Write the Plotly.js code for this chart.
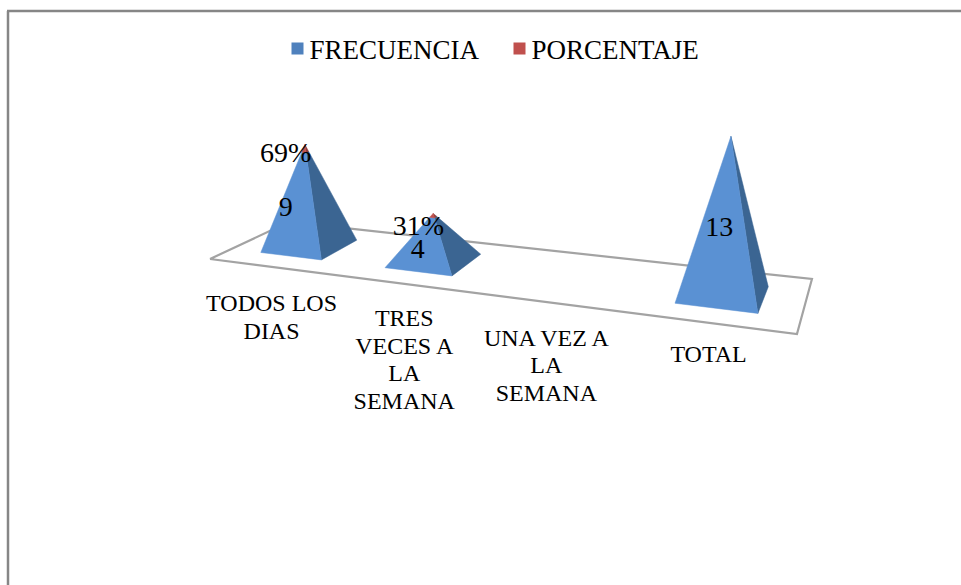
<!DOCTYPE html>
<html><head><meta charset="utf-8">
<script src="https://cdn.plot.ly/plotly-3.0.1.min.js"></script>
<style>html,body{margin:0;padding:0;background:#fff}#c{width:961px;height:585px}</style>
</head><body><div id="c"></div>
<script>
// ---- data ----
const categories = ['TODOS LOS<br>DIAS', 'TRES<br>VECES A<br>LA<br>SEMANA', 'UNA VEZ A<br>LA<br>SEMANA', 'TOTAL'];
const frecuencia = [9, 4, null, 13];
const porcentaje = [0.69, 0.31, null, null];

// ---- styles ----
const FONT = '"Liberation Serif","Times New Roman",serif';
const BLUE_FRONT = '#5a91d3', BLUE_SIDE = '#3b6592', BLUE_KEY = '#4f81bd';
const RED_FRONT = '#c0504d', RED_SIDE = '#8e3b39';

// ---- 3D projection of the floor (u along categories, w in depth, z up) ----
const H = {a:431.8, b:116, c:210, d:10, e:-8.6, f:259, g:-0.1947, h:0.128};
const UNIT = 10.9;
function project(u, w, z) {
  const den = H.g*u + H.h*w + 1;
  const px = (H.a*u + H.b*w + H.c)/den, py = (H.d*u + H.e*w + H.f)/den;
  const lift = z*UNIT/den;
  const lean = -0.0635 + 0.132*u;
  return [px + lean*lift, py - lift];
}
const n = categories.length;
const W0 = 0.25, W1 = 0.75, HALF_U = 0.0625;
const uc = i => (i + 0.5)/n;
function corners(i) {
  return {fl: project(uc(i)-HALF_U, W0, 0), fr: project(uc(i)+HALF_U, W0, 0), br: project(uc(i)+HALF_U, W1, 0)};
}
const lerp = (p, q, t) => [p[0]+(q[0]-p[0])*t, p[1]+(q[1]-p[1])*t];
function polyTrace(pts, color) {
  const c = pts.concat([pts[0]]);
  return {x: c.map(p=>p[0]), y: c.map(p=>p[1]), mode:'lines', fill:'toself', fillcolor:color,
          line:{color:color, width:0.5}, showlegend:false, hoverinfo:'skip', type:'scatter'};
}

const traces = [];
// floor
const floor = [project(0,0,0), project(1,0,0), project(1,1,0), project(0,1,0)];
const fc = floor.concat([floor[0]]);
traces.push({x:fc.map(p=>p[0]), y:fc.map(p=>p[1]), mode:'lines', fill:'toself', fillcolor:'#ffffff',
  line:{color:'#a3a3a3', width:2.2}, showlegend:false, hoverinfo:'skip', type:'scatter'});

// pyramids: a stack of frecuencia and porcentaje narrowing to one apex
categories.forEach((_, i) => {
  const f = frecuencia[i], p = porcentaje[i];
  if (f === null) return;
  const total = f + (p || 0);
  const c = corners(i), apex = project(uc(i), 0.5, total), t = f/total;
  const tl = lerp(c.fl, apex, t), tr = lerp(c.fr, apex, t), tb = lerp(c.br, apex, t);
  traces.push(polyTrace([c.fr, c.br, tb, tr], BLUE_SIDE));
  traces.push(polyTrace([c.fl, c.fr, tr, tl], BLUE_FRONT));
  if (p) {
    traces.push(polyTrace([tr, tb, apex], RED_SIDE));
    traces.push(polyTrace([tl, tr, apex], RED_FRONT));
  }
});

// data labels
const labX=[], labY=[], labT=[];
const lblOffsets = {f:[[-24,-37],[-16,-10],null,[-3.5,-66]], p:[[-24,-91],[-15.5,-33],null,null]};
categories.forEach((_, i) => {
  const base = project(uc(i), 0.5, 0);
  if (frecuencia[i] !== null) { labX.push(base[0]+lblOffsets.f[i][0]); labY.push(base[1]+lblOffsets.f[i][1]); labT.push(String(frecuencia[i])); }
  if (porcentaje[i] !== null) { labX.push(base[0]+lblOffsets.p[i][0]); labY.push(base[1]+lblOffsets.p[i][1]); labT.push(Math.round(porcentaje[i]*100)+'%'); }
});
traces.push({x:labX, y:labY, text:labT, mode:'text', textposition:'middle center', cliponaxis:false,
  textfont:{family:FONT, size:28, color:'#000'}, showlegend:false, hoverinfo:'skip', type:'scatter'});

// category labels, one text point per line so the line pitch can be kept
const catDx = [1, 3, 0, 0], catDy = [38.5, 36.5, 37.5, 33.5], LINE_PITCH = 27.7;
const catX=[], catY=[], catT=[];
categories.forEach((label, i) => {
  const p = project(uc(i), 0, 0);
  label.split('<br>').forEach((line, k) => {
    catX.push(p[0]+catDx[i]); catY.push(p[1]+catDy[i]+k*LINE_PITCH); catT.push(line);
  });
});
traces.push({x:catX, y:catY, text:catT, mode:'text', textposition:'middle center',
  textfont:{family:FONT, size:24, color:'#000'}, showlegend:false, hoverinfo:'skip', type:'scatter'});

// legend keys
traces.push({x:[null], y:[null], name:'FRECUENCIA', mode:'markers', type:'scatter', marker:{symbol:'square', size:14, color:BLUE_KEY}});
traces.push({x:[null], y:[null], name:'PORCENTAJE', mode:'markers', type:'scatter', marker:{symbol:'square', size:14, color:RED_FRONT}});

const layout = {
  width:961, height:585, margin:{l:0,r:0,t:0,b:0}, paper_bgcolor:'#fff', plot_bgcolor:'#fff',
  xaxis:{range:[0,961], visible:false, fixedrange:true},
  yaxis:{range:[585,0], visible:false, fixedrange:true},
  showlegend:true,
  legend:{orientation:'h', x:0.5+11/961, xanchor:'center', y:1-49/585, yanchor:'middle', bgcolor:'rgba(0,0,0,0)',
    font:{family:FONT, size:27, color:'#000'}, itemsizing:'constant', itemwidth:30, entrywidth:177, entrywidthmode:'pixels'},
  shapes:[
    {type:'line', xref:'paper', yref:'paper', x0:8/961, x1:8/961, y0:0, y1:1-11/585, line:{color:'#868686', width:2.5}},
    {type:'line', xref:'paper', yref:'paper', x0:7/961, x1:1, y0:1-11/585, y1:1-11/585, line:{color:'#868686', width:2.5}}
  ]
};
Plotly.newPlot('c', traces, layout, {displayModeBar:false, staticPlot:true}).then(() => {
  // the key sits closer to its text than the legend's minimum item width allows
  document.querySelectorAll('#c .legend .legendpoints').forEach(g => {
    const m = g.querySelector('.scatterpts');
    if (m) m.setAttribute('transform', 'translate(28,0)');
  });
});
</script></body></html>
